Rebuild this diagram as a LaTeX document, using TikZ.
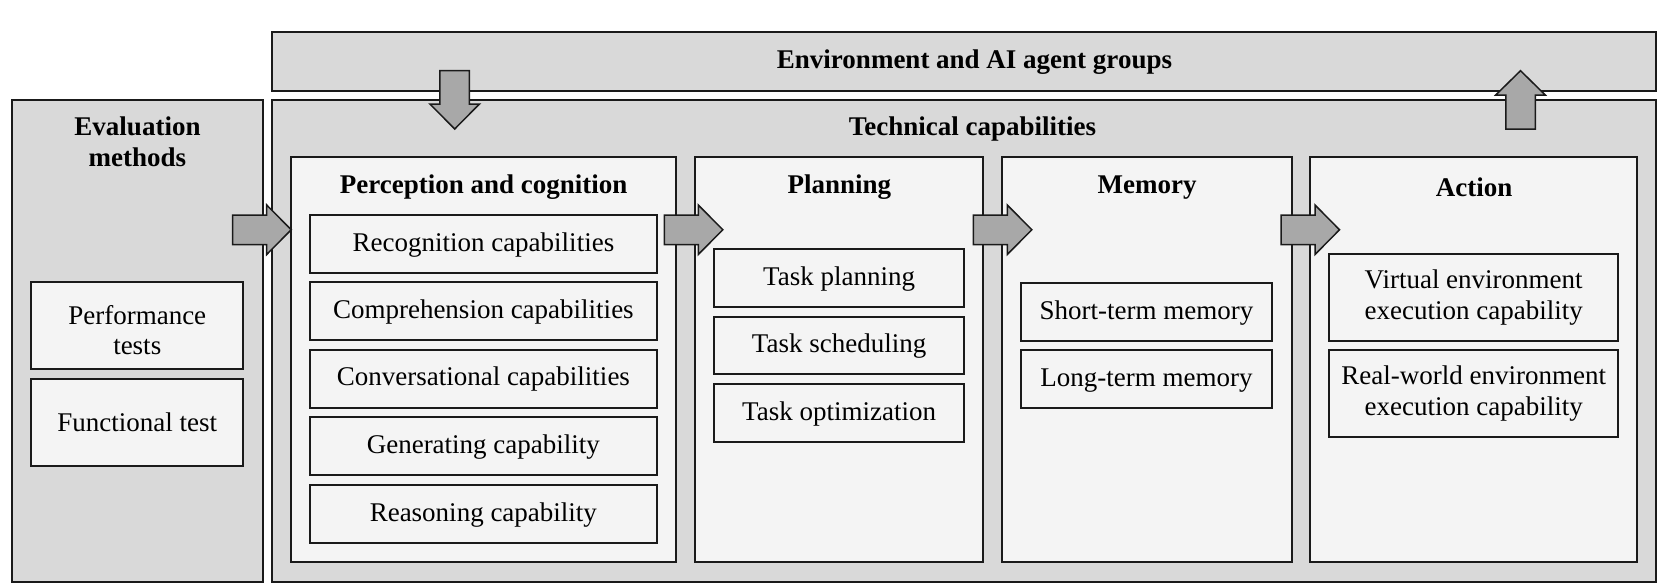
\documentclass[tikz,border=0pt]{standalone}
\usepackage{fontspec}
\setmainfont{Liberation Serif}
\definecolor{outerfill}{HTML}{D9D9D9}
\definecolor{innerfill}{HTML}{F4F4F4}
\definecolor{arrowfill}{HTML}{A8A8A8}
\definecolor{edgecol}{HTML}{1A1A1A}
% text with fixed strut height (#1) and depth (#2)
\newcommand\stx[3]{\rule{0pt}{#1pt}#3\rule[-#2pt]{0pt}{#2pt}}
\begin{document}
\begin{tikzpicture}[x=1pt,y=-1pt,
  every node/.style={font=\fontsize{27}{30.5}\selectfont, inner sep=0pt, align=center},
  outerbox/.style={draw=edgecol, line width=2pt, fill=outerfill, rectangle},
  panel/.style={draw=edgecol, line width=2pt, fill=innerfill, rectangle},
  itembox/.style={draw=edgecol, line width=2pt, fill=innerfill, rectangle},
  titletext/.style={font=\bfseries\fontsize{27}{30.5}\selectfont},
  blockarrow/.style={draw=edgecol, line width=1.5pt, fill=arrowfill, line join=miter},
  rarrow/.pic={\path[blockarrow] (0,-14.75) -- (34,-14.75) -- (34,-24.75) -- (58.5,0) -- (34,24.75) -- (34,14.75) -- (0,14.75) -- cycle;},
  darrow/.pic={\path[blockarrow] (-14.75,0) -- (-14.75,33.3) -- (-24.75,33.3) -- (0,58.3) -- (24.75,33.3) -- (14.75,33.3) -- (14.75,0) -- cycle;},
  uarrow/.pic={\path[blockarrow] (-14.75,0) -- (-14.75,-34) -- (-24.75,-34) -- (0,-58.3) -- (24.75,-34) -- (14.75,-34) -- (14.75,0) -- cycle;},
]
\useasboundingbox (0,0) rectangle (1677,586);
\fill[white] (0,0) rectangle (1677,586);

% outer boxes
\node[outerbox, minimum width=1384.3pt, minimum height=58.8pt] (env) at (963.85,61.1) {};
\node[titletext, anchor=base] (envt) at (974.5,68.5) {Environment and AI agent groups};
\node[outerbox, minimum width=1384.3pt, minimum height=481.5pt] (tech) at (963.85,340.75) {};
\node[titletext, anchor=base] (techt) at (972.5,135.5) {Technical capabilities};
\node[outerbox, minimum width=251pt, minimum height=482pt] (eval) at (137.2,340.5) {};
\node[titletext, anchor=north] (evalt) at (137.5,116.6) {\stx{18.4}{5.9}{Evaluation\\methods}};

% evaluation items
\node[itembox, minimum width=212.1pt, minimum height=86.7pt] (perf) at (137.25,325.65) {\stx{33.8}{5.9}{Performance\\tests}};
\node[itembox, minimum width=212.1pt, minimum height=87pt] (func) at (137.25,422.15) {\stx{24.9}{5.9}{Functional test}};

% panels
\node[panel, minimum width=385pt, minimum height=404.7pt] (perc) at (483.5,359.65) {};
\node[titletext, anchor=base] (perct) at (483.6,193.2) {Perception and cognition};
\node[panel, minimum width=288.3pt, minimum height=404.7pt] (plan) at (839.15,359.65) {};
\node[titletext, anchor=base] (plant) at (839.4,193.2) {Planning};
\node[panel, minimum width=289.2pt, minimum height=404.7pt] (mem) at (1146.9,359.65) {};
\node[titletext, anchor=base] (memt) at (1147,193.2) {Memory};
\node[panel, minimum width=327.3pt, minimum height=404.7pt] (act) at (1473.65,359.65) {};
\node[titletext, anchor=base] (actt) at (1474,196.2) {Action};

% perception items
\node[itembox, minimum width=346.7pt, minimum height=58pt] (p1) at (483.35,244) {\stx{20.4}{5.9}{Recognition capabilities}};
\node[itembox, minimum width=346.7pt, minimum height=58pt] (p2) at (483.35,311) {\stx{20.4}{5.9}{Comprehension capabilities}};
\node[itembox, minimum width=346.7pt, minimum height=58pt] (p3) at (483.35,378.5) {\stx{20.4}{5.9}{Conversational capabilities}};
\node[itembox, minimum width=346.7pt, minimum height=58pt] (p4) at (483.35,446) {\stx{20.4}{5.9}{Generating capability}};
\node[itembox, minimum width=346.7pt, minimum height=58pt] (p5) at (483.35,514) {\stx{20.4}{5.9}{Reasoning capability}};

% planning items
\node[itembox, minimum width=250.3pt, minimum height=57.7pt] (q1) at (839.15,277.85) {\stx{20.4}{5.9}{Task planning}};
\node[itembox, minimum width=250.3pt, minimum height=57.7pt] (q2) at (839.15,345.5) {\stx{20.4}{5.9}{Task scheduling}};
\node[itembox, minimum width=250.3pt, minimum height=57.7pt] (q3) at (839.15,412.85) {\stx{20.4}{5.9}{Task optimization}};

% memory items
\node[itembox, minimum width=251pt, minimum height=58pt] (m1) at (1146.5,311.85) {\stx{20.4}{5.9}{Short-term memory}};
\node[itembox, minimum width=251pt, minimum height=58pt] (m2) at (1146.5,378.85) {\stx{20.4}{5.9}{Long-term memory}};

% action items
\node[itembox, minimum width=289.3pt, minimum height=86.7pt, font=\fontsize{27}{30.5}\selectfont] (a1) at (1473.65,297.35) {\stx{18.4}{4.4}{Virtual environment\\execution capability}};
\node[itembox, minimum width=289.3pt, minimum height=86.7pt, font=\fontsize{27}{30.5}\selectfont] (a2) at (1473.65,393.35) {\stx{18.4}{5.4}{Real-world environment\\execution capability}};

% block arrows
\pic at (232.7,229.75) {rarrow};
\pic at (664.3,229.75) {rarrow};
\pic at (973.3,229.75) {rarrow};
\pic at (1281,229.75) {rarrow};
\pic at (454.7,70.7) {darrow};
\pic at (1520.5,129) {uarrow};
\end{tikzpicture}
\end{document}
